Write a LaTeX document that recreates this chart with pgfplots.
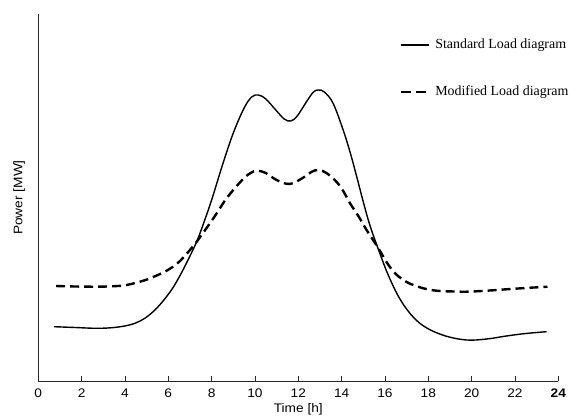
\documentclass[border=0pt]{standalone}
\usepackage{fontspec}
\setmainfont{Liberation Sans}
\newfontfamily\legfont{Liberation Serif}
\usepackage{pgfplots}
\pgfplotsset{compat=1.18}

\begin{document}
\begin{tikzpicture}
\useasboundingbox (0,0) rectangle (578bp,417bp);
\begin{axis}[
  at={(38.3bp,36bp)}, anchor=south west,
  width=520bp, height=367bp, scale only axis,
  xmin=0, xmax=24, ymin=0, ymax=367,
  axis x line*=bottom, axis y line*=left,
  axis line style={black!85, line width=0.8bp},
  xtick={0,2,...,24},
  xticklabels={0,2,4,6,8,10,12,14,16,18,20,22,\textbf{24}},
  ytick=\empty,
  tick align=inside, major tick length=5bp,
  tick style={black!85, line width=0.8bp},
  xticklabel style={font=\addfontfeature{FakeStretch=1.1}\fontsize{12.5}{14}\selectfont, yshift=-4bp},
  xlabel={Time [h]}, ylabel={Power [MW]},
  label style={font=\addfontfeature{FakeStretch=1.1}\fontsize{12.5}{14}\selectfont},
  xlabel style={yshift=1bp},
  ylabel style={at={(axis description cs:-0.037,0.5)}, anchor=center},
  clip=false,
]
% standard load diagram
\addplot[black, line width=1.4bp, smooth, tension=0.6] coordinates {
  (0.72,54.3) (1.7,53.5) (2.7,52.7) (3.5,53.5) (4.2,56) (4.7,60)
  (5.15,66.5) (5.6,76) (6.08,89) (6.4,100) (6.7,112) (7.0,125) (7.31,139.3)
  (7.6,156) (8.0,181) (8.5,216) (9.0,248) (9.5,273) (9.85,284) (10.15,286)
  (10.5,282) (11.0,270) (11.35,262) (11.65,260) (11.95,265) (12.4,280)
  (12.7,289) (12.93,291) (13.2,289) (13.6,278) (14.07,251) (14.4,228)
  (14.7,204) (15.0,179) (15.3,156) (15.69,132) (16.15,106) (16.69,82)
  (17.3,64) (17.93,53) (18.8,45) (19.77,41) (20.7,42) (21.6,45) (22.5,47.5)
  (23.46,49.3)};
% modified load diagram
\addplot[black, line width=2.4bp, dash pattern=on 9bp off 5bp, smooth, tension=0.6] coordinates {
  (0.82,95) (1.7,94.5) (2.7,94.3) (3.5,94.8) (4.08,96) (4.85,100.3)
  (5.3,104) (5.77,108.5) (6.2,114) (6.54,120) (6.9,128.5) (7.31,139.3)
  (7.8,154) (8.23,167.5) (8.6,180) (9.0,191) (9.5,203) (9.8,208) (10.1,210.3)
  (10.5,208) (11.0,201) (11.6,197) (12.2,203) (12.6,209) (12.93,211)
  (13.3,208) (13.77,199) (14.1,189) (14.38,178) (14.8,164) (15.15,151)
  (15.69,133) (16.1,118) (16.5,107) (17.0,99) (17.5,94.5) (18.0,91.5)
  (18.54,90) (19.2,89.5) (19.77,89.3) (20.7,90.3) (21.6,91.7) (22.5,93)
  (23.5,94.3)};

% legend
\draw[black, line width=1.4bp] (axis description cs:0.697,0.9155) -- (axis description cs:0.751,0.9155);
\node[anchor=west, inner sep=0pt, font=\legfont\fontsize{14}{16}\selectfont]
  at (axis description cs:0.763,0.9155) {Standard Load diagram};
\draw[black, line width=2.4bp, dash pattern=on 10bp off 5bp] (axis description cs:0.697,0.788) -- (axis description cs:0.751,0.788);
\node[anchor=west, inner sep=0pt, font=\legfont\fontsize{14}{16}\selectfont]
  at (axis description cs:0.763,0.788) {Modified Load diagram};
\end{axis}
\end{tikzpicture}
\end{document}
